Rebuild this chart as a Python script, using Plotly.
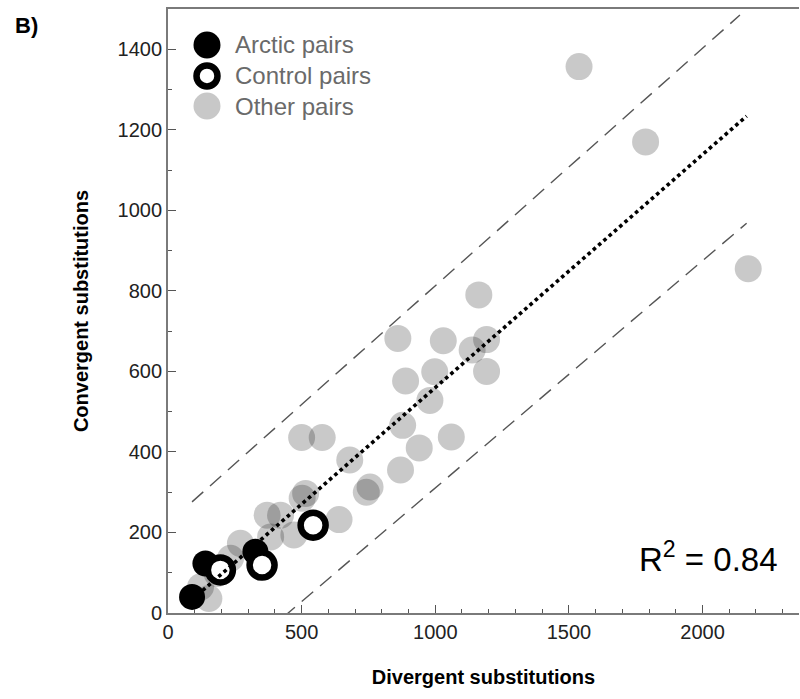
import plotly.graph_objects as go

# Divergent vs convergent amino-acid substitutions for species pairs
arctic_div = [90, 140, 327]
arctic_conv = [40, 123, 152]

control_div = [196, 352, 543]
control_conv = [107, 119, 218]

other_div = [1538, 1787, 2171, 1163, 860, 1030, 1192, 1138, 1192, 998, 889,
             980, 878, 1060, 940, 870, 500, 577, 680, 742, 756, 640, 515, 502,
             371, 421, 384, 471, 271, 234, 184, 122, 153]
other_conv = [1357, 1170, 855, 790, 682, 676, 679, 653, 600, 599, 576,
              528, 466, 437, 410, 355, 436, 436, 380, 300, 313, 232, 297, 285,
              243, 243, 189, 194, 173, 136, 98, 65, 36]

# Regression line and prediction bounds (end points)
fit_x = [90, 2165]
fit_y = [33, 1234]
upper_x = [90, 2140]
upper_y = [276, 1485]
lower_x = [90, 2165]
lower_y = [-203, 968]

r_squared = 0.84

x_ticks = [0, 500, 1000, 1500, 2000]
y_ticks = [0, 200, 400, 600, 800, 1000, 1200, 1400]

FONT = "Liberation Sans, Arial, Helvetica, sans-serif"
AXIS_GREY = "#7a7a7a"

fig = go.Figure()

fig.add_trace(go.Scatter(
    x=other_div, y=other_conv, mode="markers", name="Other pairs",
    marker=dict(size=27, color="rgba(0,0,0,0.21)", line=dict(width=0)),
    showlegend=False,
))
fig.add_trace(go.Scatter(
    x=arctic_div, y=arctic_conv, mode="markers", name="Arctic pairs",
    marker=dict(size=26, color="black", line=dict(width=0)),
    showlegend=False,
))
fig.add_trace(go.Scatter(
    x=control_div, y=control_conv, mode="markers", name="Control pairs",
    marker=dict(size=25, color="white", line=dict(width=6.5, color="black")),
    showlegend=False,
))

for bx, by in ((upper_x, upper_y), (lower_x, lower_y)):
    fig.add_trace(go.Scatter(
        x=bx, y=by, mode="lines", showlegend=False, hoverinfo="skip",
        line=dict(color="#555555", width=1.4, dash="15px,9px"),
    ))

fig.add_trace(go.Scatter(
    x=fit_x, y=fit_y, mode="lines", showlegend=False, hoverinfo="skip",
    line=dict(color="black", width=3.6, dash="3.6px,3.4px"),
))

# Hand-built legend with full-size circles
legend_rows = [("Arctic pairs", 0.9404), ("Control pairs", 0.8891), ("Other pairs", 0.8394)]
legend_x = 0.0618
shapes = []
for label, ly in legend_rows:
    if label == "Arctic pairs":
        style = dict(fillcolor="black", line=dict(width=0), r=13.5)
    elif label == "Control pairs":
        style = dict(fillcolor="white", line=dict(width=6.5, color="black"), r=10.5)
    else:
        style = dict(fillcolor="#c8c8c8", line=dict(width=0), r=13.5)
    r = style.pop("r")
    shapes.append(dict(
        type="circle", xref="paper", yref="paper",
        xsizemode="pixel", ysizemode="pixel",
        xanchor=legend_x, yanchor=ly,
        x0=-r, x1=r, y0=-r, y1=r, layer="above", **style,
    ))

annotations = [
    dict(x=0.103, y=ly, xref="paper", yref="paper", text=label,
         showarrow=False, xanchor="left", yanchor="middle",
         font=dict(family=FONT, size=24, color="#6a6a6a"))
    for label, ly in legend_rows
]
annotations.append(dict(
    x=2290, y=139, xref="x", yref="y",
    text=f"R<sup>2</sup> = {r_squared:.2f}",
    showarrow=False, xanchor="right", yanchor="middle",
    font=dict(family=FONT, size=33, color="black"),
))
# panel letter, positioned in figure pixels converted to plot-area fractions
annotations.append(dict(
    x=(13 - 168) / 631, y=(613 - 25) / 604, xref="paper", yref="paper",
    text="<b>B)</b>", showarrow=False, xanchor="left", yanchor="middle",
    font=dict(family=FONT, size=22, color="black"),
))

fig.update_layout(
    width=800, height=699,
    margin=dict(l=168, r=1, t=9, b=86),
    paper_bgcolor="white", plot_bgcolor="white",
    font=dict(family=FONT, size=20, color="#222222"),
    shapes=shapes, annotations=annotations,
    showlegend=False,
)

fig.update_xaxes(
    range=[0, 2361], tickvals=x_ticks, ticks="inside", ticklen=8, tickwidth=1.3,
    tickcolor="#555555", showline=True, linecolor=AXIS_GREY, linewidth=1.8,
    mirror=True, showgrid=False, zeroline=False,
    tickfont=dict(family=FONT, size=20, color="#222222"),
    minor=dict(dtick=100, ticks="inside", ticklen=4, tickwidth=1.1, tickcolor="#555555"),
    title=dict(text="<b>Divergent substitutions</b>", standoff=28,
               font=dict(family=FONT, size=20, color="black")),
)
fig.update_yaxes(
    range=[0, 1500], tickvals=y_ticks, ticks="inside", ticklen=8, tickwidth=1.3,
    tickcolor="#555555", showline=True, linecolor=AXIS_GREY, linewidth=1.8,
    showgrid=False, zeroline=False,
    tickfont=dict(family=FONT, size=20, color="#222222"),
    minor=dict(dtick=100, ticks="inside", ticklen=4, tickwidth=1.1, tickcolor="#555555"),
    title=dict(text="<b>Convergent substitutions</b>", standoff=24,
               font=dict(family=FONT, size=20, color="black")),
)

fig.write_html("out.html")
